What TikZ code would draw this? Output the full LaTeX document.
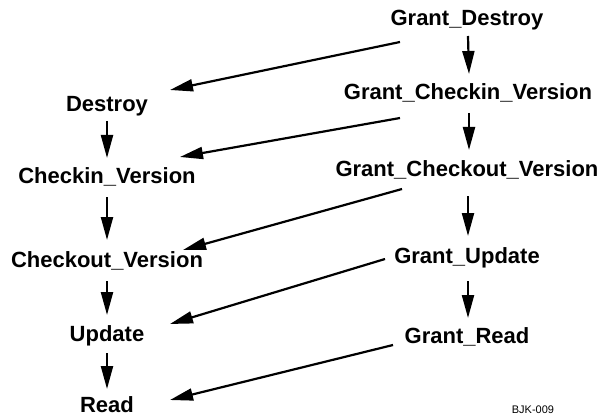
\documentclass[tikz,border=0pt]{standalone}
\usepackage{fontspec}
\setmainfont{Liberation Sans}
\usetikzlibrary{arrows.meta}
\begin{document}
\begin{tikzpicture}[x=1pt,y=-1pt,
  lbl/.style={font=\fontsize{22}{24}\selectfont\bfseries, inner sep=0pt, anchor=base},
  tag/.style={font=\fontsize{11}{13}\selectfont, inner sep=0pt, anchor=base},
  arr/.style={line width=2.2pt, -{Triangle[length=23pt,width=12pt]}}]
\useasboundingbox (0,0) rectangle (602,417);
% right column
\node[lbl] (gd)  at (467,26)  {Grant\_Destroy};
\node[lbl] (gci) at (468,100) {Grant\_Checkin\_Version};
\node[lbl] (gco) at (467,176) {Grant\_Checkout\_Version};
\node[lbl] (gu)  at (467,263) {Grant\_Update};
\node[lbl] (gr)  at (467,343) {Grant\_Read};
% left column
\node[lbl] (d)  at (107,112) {Destroy};
\node[lbl] (ci) at (107,183) {Checkin\_Version};
\node[lbl] (co) at (107,267) {Checkout\_Version};
\node[lbl] (u)  at (107,341) {Update};
\node[lbl] (r)  at (107,412) {Read};
\node[tag] (id) at (533,413) {BJK-009};
% vertical arrows right
\draw[arr] ([shift={(1,10)}]gd.base) -- ([shift={(1,-26)}]gci.base);
\draw[arr] ([shift={(1,13)}]gci.base) -- ([shift={(2,-26)}]gco.base);
\draw[arr] ([shift={(1,20)}]gco.base) -- ([shift={(1,-27)}]gu.base);
\draw[arr] ([shift={(1,18)}]gu.base) -- ([shift={(1,-25)}]gr.base);
% vertical arrows left
\draw[arr] ([shift={(0,9)}]d.base) -- ([shift={(0,-25)}]ci.base);
\draw[arr] ([shift={(0,14)}]ci.base) -- ([shift={(0,-27)}]co.base);
\draw[arr] ([shift={(0,14)}]co.base) -- ([shift={(0,-26)}]u.base);
\draw[arr] ([shift={(0,12)}]u.base) -- ([shift={(0,-23)}]r.base);
% diagonal arrows
\draw[arr] ([shift={(-67,16)}]gd.base) -- ([shift={(63,-22)}]d.base);
\draw[arr] ([shift={(-68,18)}]gci.base) -- ([shift={(73,-26)}]ci.base);
\draw[arr] ([shift={(-65,13)}]gco.base) -- ([shift={(76,-17)}]co.base);
\draw[arr] ([shift={(-82,-4)}]gu.base) -- ([shift={(63,-17)}]u.base);
\draw[arr] ([shift={(-74,2)}]gr.base) -- ([shift={(63,-12)}]r.base);
\end{tikzpicture}
\end{document}
